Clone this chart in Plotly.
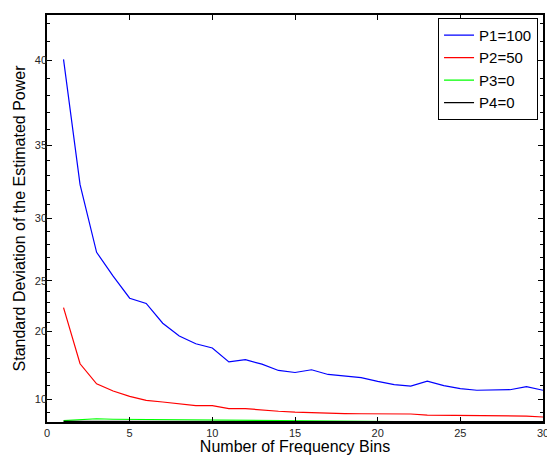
import plotly.graph_objects as go

# ---- data ----
bins = list(range(1, 31))
p1_values = [40.05, 32.4, 27.4, 25.4, 23.4, 22.9, 20.9, 19.5, 18.6, 18.1,
             16.3, 16.6, 16.0, 15.1, 14.8, 15.2, 14.5, 14.2, 14.0, 13.4,
             12.85, 12.6, 13.45, 12.7, 12.15, 11.85, 11.85, 11.95, 12.5, 11.85]
p2_values = [22.5, 16.05, 13.0, 11.7, 10.65, 9.8, 9.4, 8.9, 8.5, 8.5,
             7.7, 7.7, 7.2, 6.9, 6.6, 6.4, 6.2, 6.1, 6.05, 6.05,
             5.95, 5.95, 5.55, 5.5, 5.5, 5.5, 5.45, 5.1, 5.1, 4.7]
p3_values = [2.4, 3.3, 3.8, 3.5, 3.4, 3.2, 3.0, 2.9, 2.8, 2.7,
             2.6, 2.5, 2.4, 2.2, 2.0, 1.8, 1.7, 1.6, 1.5, 1.5,
             1.4, 1.4, 1.4, 1.3, 1.3, 1.3, 1.3, 1.3, 1.3, 1.3]
p4_values = [1.6, 1.5, 1.5, 1.4, 1.4, 1.4, 1.3, 1.3, 1.3, 1.3,
             1.2, 1.2, 1.2, 1.2, 1.2, 1.2, 1.2, 1.2, 1.2, 1.2,
             1.2, 1.2, 1.2, 1.2, 1.2, 1.2, 1.2, 1.2, 1.2, 1.2]
series_names = ["P1=100", "P2=50", "P3=0", "P4=0"]
series_colors = ["#0000FF", "#FF0000", "#00FF00", "#000000"]

x_ticks = [0, 5, 10, 15, 20, 25, 30]
y_tick_labels = [10, 20, 25, 30, 35, 40]
y_minor_ticks = [6.32, 12.65, 14.83, 16.73, 18.44,
                 21, 22, 23, 24, 26, 27, 28, 29, 31, 32, 33, 34,
                 36, 37, 38, 39, 41, 42]
y_max = 42.43  # top of the axis (axis is quadratic in value)


def sq(vals):
    return [v * v for v in vals]


fig = go.Figure()
for name, color, vals in zip(series_names, series_colors,
                             [p1_values, p2_values, p3_values, p4_values]):
    fig.add_trace(go.Scatter(
        x=bins, y=sq(vals), mode="lines", name=name,
        line=dict(color=color, width=1.2),
        customdata=vals, hovertemplate="%{x}: %{customdata}<extra>" + name + "</extra>",
    ))

font_family = "Liberation Sans, Arial, sans-serif"
fig.update_layout(
    width=547, height=455,
    margin=dict(l=47, r=4, t=15, b=33),
    paper_bgcolor="white", plot_bgcolor="white",
    font=dict(family=font_family, color="#000000"),
    showlegend=True,
    legend=dict(
        x=0.99, y=0.993, xanchor="right", yanchor="top",
        bgcolor="white", bordercolor="black", borderwidth=1,
        font=dict(size=15, family=font_family, color="#000000"),
        tracegroupgap=0, itemwidth=30,
    ),
    xaxis=dict(
        range=[0, 30], tickmode="array", tickvals=x_ticks,
        ticktext=[str(t) for t in x_ticks],
        ticks="inside", ticklen=5, tickwidth=1, tickcolor="black",
        ticklabeloverflow="allow",
        showline=True, linecolor="black", linewidth=1.5, mirror="ticks",
        showgrid=False, zeroline=False,
        tickfont=dict(size=11, color="#262626"),
        title=dict(text="Number of Frequency Bins", font=dict(size=16), standoff=6),
        automargin=False,
    ),
    yaxis=dict(
        range=[0, y_max * y_max], tickmode="array",
        tickvals=sq(y_tick_labels), ticktext=[str(t) for t in y_tick_labels],
        ticks="inside", ticklen=5, tickwidth=1, tickcolor="black",
        ticklabelstandoff=-4, ticklabeloverflow="allow",
        minor=dict(tickmode="array", tickvals=sq(y_minor_ticks),
                   ticks="inside", ticklen=3, tickwidth=1, tickcolor="black",
                   showgrid=False),
        showline=True, linecolor="black", linewidth=1.5, mirror="ticks",
        showgrid=False, zeroline=False,
        tickfont=dict(size=11, color="#262626"),
        title=dict(text="Standard Deviation of the Estimated Power", font=dict(size=16), standoff=5),
        automargin=False,
    ),
)

fig.write_html(
    "out.html",
    config={"displayModeBar": False},
    post_script="document.body.style.margin='0';document.body.style.overflow='hidden';",
)
